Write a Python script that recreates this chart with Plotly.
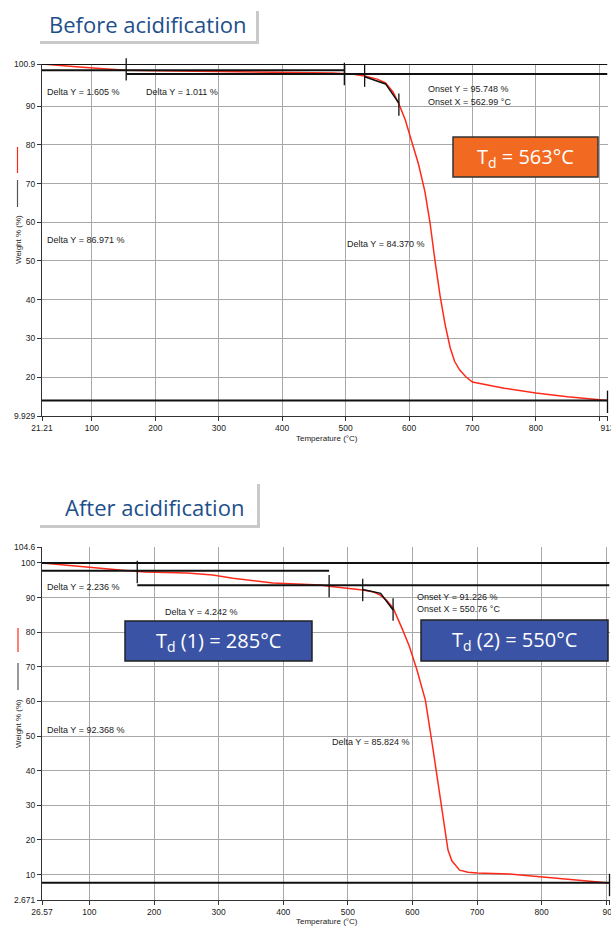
import plotly.graph_objects as go

W, H = 611, 929

# ---------------- data: before acidification ----------------
temp_before = [21.21, 40, 80, 124, 154, 200, 300, 400, 480, 510, 530, 550, 563, 575, 584,
               594, 605, 615, 625, 633, 641, 649, 657, 665, 672, 680, 690, 700, 750, 800, 850, 913]
weight_before = [100.9, 100.6, 100.1, 99.6, 99.3, 99.15, 99.0, 98.85, 98.6, 98.3, 97.8, 97.0, 96.0, 93.6, 90.6,
                 86.5, 80.5, 75.0, 68.0, 60.0, 50.0, 41.0, 33.5, 27.5, 24.0, 21.8, 20.0, 18.7, 17.1, 15.9, 14.9, 13.93]
before_seg_t0 = [21.21, 21.21, 154, 21.21]
before_seg_t1 = [913, 498, 913, 913]
before_seg_w = [100.9, 99.295, 98.284, 13.929]
before_tick_t = [154, 498, 530, 584, 913]
before_tick_w = [99.5, 98.3, 97.9, 90.4, 13.6]
before_onset_t = [530, 562.99, 584]
before_onset_w = [97.6, 95.748, 90.8]
before_xticks = [21.21, 100, 200, 300, 400, 500, 600, 700, 800, 900, 913]
before_xtext = ["21.21", "100", "200", "300", "400", "500", "600", "700", "800", "", "913"]
before_yticks = [9.929, 20, 30, 40, 50, 60, 70, 80, 90, 100.9]
before_ytext = ["9.929", "20", "30", "40", "50", "60", "70", "80", "90", "100.9"]

# ---------------- data: after acidification ----------------
temp_after = [26.57, 60, 100, 147, 186, 251, 291, 322, 384, 426, 457, 471, 500, 523, 540, 550, 560, 570,
              585, 595, 607, 620, 632, 643, 650, 655, 661, 666, 673, 686, 700, 750, 800, 850, 905]
weight_after = [100.0, 99.4, 98.7, 97.96, 97.4, 97.1, 96.5, 95.6, 94.2, 93.9, 93.6, 93.3, 92.8, 92.2, 91.6, 90.7, 89.2, 87.0,
                80.6, 76.0, 69.1, 60.4, 46.0, 31.5, 22.9, 17.1, 14.0, 12.8, 11.3, 10.7, 10.5, 10.2, 9.4, 8.4, 7.6]
after_seg_t0 = [26.57, 26.57, 174, 26.57]
after_seg_t1 = [905, 471, 905, 905]
after_seg_w = [100.0, 97.764, 93.522, 7.632]
after_tick_t = [174, 471, 523, 570, 905]
after_tick_w = [97.4, 93.3, 92.2, 86.55, 7.0]
after_onset_t = [523, 550.76, 570]
after_onset_w = [92.3, 91.226, 86.4]
after_xticks = [26.57, 100, 200, 300, 400, 500, 600, 700, 800, 900, 905]
after_xtext = ["26.57", "100", "200", "300", "400", "500", "600", "700", "800", "", "905"]
after_yticks = [2.671, 10, 20, 30, 40, 50, 60, 70, 80, 90, 100, 104.6]
after_ytext = ["2.671", "10", "20", "30", "40", "50", "60", "70", "80", "90", "100", "104.6"]


def px(x):
    return x / W


def py(y):
    return 1 - y / H


fig = go.Figure()

RED = "#FF2A1A"
BLK = "#111111"


def add_panel(xa, ya, t, w, s0, s1, sw, tt, tw, ot, ow):
    fig.add_trace(go.Scatter(x=t, y=w, mode="lines", line=dict(color=RED, width=1.5),
                             xaxis=xa, yaxis=ya, showlegend=False, hoverinfo="skip"))
    for a, b, c in zip(s0, s1, sw):
        fig.add_trace(go.Scatter(x=[a, b], y=[c, c], mode="lines", line=dict(color=BLK, width=2),
                                 xaxis=xa, yaxis=ya, showlegend=False, hoverinfo="skip"))
    fig.add_trace(go.Scatter(x=ot, y=ow, mode="lines", line=dict(color=BLK, width=1.5),
                             xaxis=xa, yaxis=ya, showlegend=False, hoverinfo="skip"))
    fig.add_trace(go.Scatter(x=tt, y=tw, mode="markers",
                             marker=dict(symbol="line-ns-open", size=16, color=BLK,
                                         line=dict(color=BLK, width=1.3)),
                             xaxis=xa, yaxis=ya, showlegend=False, hoverinfo="skip", cliponaxis=False))


add_panel("x", "y", temp_before, weight_before, before_seg_t0, before_seg_t1, before_seg_w,
          before_tick_t, before_tick_w, before_onset_t, before_onset_w)
add_panel("x2", "y2", temp_after, weight_after, after_seg_t0, after_seg_t1, after_seg_w,
          after_tick_t, after_tick_w, after_onset_t, after_onset_w)

tickfont = dict(family="Liberation Sans", size=8.5, color="#222222")
GRID = "#A8A8A8"

common_x = dict(showgrid=True, gridcolor=GRID, gridwidth=1, showline=True, linecolor="#333333",
                linewidth=1, ticks="outside", ticklen=4, tickcolor="#333333", tickfont=tickfont,
                zeroline=False, tickmode="array", automargin=False, ticklabeloverflow="allow")
common_y = dict(common_x)

fig.update_layout(
    width=W, height=H, margin=dict(l=0, r=0, t=0, b=0, pad=0, autoexpand=False),
    paper_bgcolor="white", plot_bgcolor="white",
    xaxis=dict(common_x, domain=[px(42), px(607.5)], range=[21.21, 913],
               tickvals=before_xticks, ticktext=before_xtext, anchor="y"),
    yaxis=dict(common_y, domain=[py(416), py(64)], range=[9.929, 100.9],
               tickvals=before_yticks, ticktext=before_ytext, anchor="x"),
    xaxis2=dict(common_x, domain=[px(42), px(609.5)], range=[26.57, 905],
                tickvals=after_xticks, ticktext=after_xtext, anchor="y2"),
    yaxis2=dict(common_y, domain=[py(900), py(547)], range=[2.671, 104.6],
                tickvals=after_yticks, ticktext=after_ytext, anchor="x2"),
)

shapes = []
annos = []


def rect(x0, y0, x1, y1, fill, line=None, lw=0):
    shapes.append(dict(type="rect", xref="paper", yref="paper", x0=px(x0), x1=px(x1), y0=py(y1), y1=py(y0),
                       fillcolor=fill, line=dict(color=line or fill, width=lw), layer="above"))


def vline(x, y0, y1, color):
    shapes.append(dict(type="line", xref="paper", yref="paper", x0=px(x), x1=px(x), y0=py(y0), y1=py(y1),
                       line=dict(color=color, width=1.2), layer="above"))


def text(x, y, s, size=9, color="#222222", family="Liberation Sans", xanchor="left", angle=0):
    annos.append(dict(xref="paper", yref="paper", x=px(x), y=py(y), text=s, showarrow=False,
                      xanchor=xanchor, yanchor="middle", textangle=angle,
                      font=dict(family=family, size=size, color=color)))


# title boxes with drop shadow
rect(40, 11, 259, 44, "#C9C9C9")
rect(37, 8, 256, 41, "white")
text(147, 24, "Before acidification", size=22, color="#1D4F8B", family="Open Sans", xanchor="center")
rect(40, 484, 260, 528, "#C9C9C9")
rect(37, 481, 257, 525, "white")
text(154, 507, "After acidification", size=22, color="#1D4F8B", family="Open Sans", xanchor="center")

# Td boxes
rect(453, 137, 598, 177, "#F26A22", "#333333", 1.5)
text(525.5, 157, "T<sub>d</sub> = 563°C", size=20, color="white", family="Open Sans", xanchor="center")
rect(125, 621, 312, 661, "#3A53A4", "#222222", 1.5)
text(218.5, 641, "T<sub>d</sub> (1) = 285°C", size=20, color="white", family="Open Sans", xanchor="center")
rect(421, 620, 608, 661, "#3A53A4", "#222222", 1.5)
text(514.5, 640.5, "T<sub>d</sub> (2) = 550°C", size=20, color="white", family="Open Sans", xanchor="center")

# annotations top
text(45, 92, "Delta Y = 1.605 %")
text(144, 92, "Delta Y = 1.011 %")
text(426, 89, "Onset Y = 95.748 %")
text(426, 102, "Onset X = 562.99 °C")
text(45, 240, "Delta Y = 86.971 %")
text(345, 244, "Delta Y = 84.370 %")
# annotations bottom
text(45, 587, "Delta Y = 2.236 %")
text(163, 612, "Delta Y = 4.242 %")
text(415, 597, "Onset Y = 91.226 %")
text(415, 609, "Onset X = 550.76 °C")
text(45, 730, "Delta Y = 92.368 %")
text(330, 742, "Delta Y = 85.824 %")

# axis titles
text(327, 439, "Temperature (°C)", size=8, xanchor="center")
text(327, 921, "Temperature (°C)", size=8, xanchor="center")
text(18, 240, "Weight % (%)", size=8, xanchor="center", angle=-90)
text(18, 724, "Weight % (%)", size=8, xanchor="center", angle=-90)
vline(17.5, 147, 173, RED)
vline(17.5, 180, 207, "#555555")
vline(18, 628, 652, RED)
vline(18, 663, 690, "#555555")

fig.update_layout(shapes=shapes, annotations=annos)
fig.write_html(
    "out.html",
    config={"displayModeBar": False, "staticPlot": True},
    post_script=("document.documentElement.style.overflow='hidden';"
                 "document.body.style.margin='0';document.body.style.overflow='hidden';"),
)
